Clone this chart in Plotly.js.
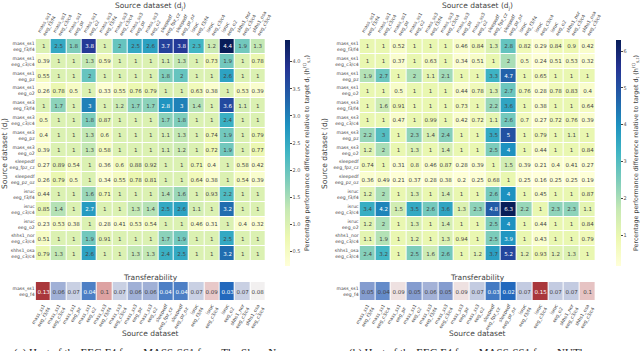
<!DOCTYPE html>
<html><head><meta charset="utf-8">
<script src="https://cdn.plot.ly/plotly-3.0.1.min.js"></script>
<style>body{margin:0;background:#fff}#c{width:640px;height:351px}</style>
</head><body><div id="c"></div>
<script>
var datasets = ["mass_ss1<br>eeg_f3/f4","mass_ss1<br>eeg_c3/c4","mass_ss1<br>eeg_pz","mass_ss1<br>eeg_o2",
"mass_ss3<br>eeg_f3/f4","mass_ss3<br>eeg_c3/c4","mass_ss3<br>eeg_pz","mass_ss3<br>eeg_o2",
"sleepedf<br>eeg_fpz_cz","sleepedf<br>eeg_pz_oz","isruc<br>eeg_f3/f4","isruc<br>eeg_c3/c4","isruc<br>eeg_o2",
"shhs1_nor<br>eeg_c3/c4","shhs1_osa<br>eeg_c3/c4"];
var targetLabel = ["mass_ss1<br>eeg_f4"];

var leftMatrix = [
[1,2.5,1.8,3.8,1,2,2.5,2.6,3.7,3.8,2.3,1.2,4.4,1.9,1.3],
[0.39,1,1,1.3,0.59,1,1,1,1.1,1.3,1,0.73,1.9,1,0.78],
[0.55,1,1,2,1,1,1,1,1.8,2,1,1,2.6,1,1],
[0.26,0.78,0.5,1,0.33,0.55,0.76,0.79,1,1,0.63,0.38,1,0.53,0.39],
[1,1.7,1,3,1,1.2,1.7,1.7,2.8,3,1.4,1,3.6,1.1,1],
[0.5,1,1,1.8,0.87,1,1,1,1.7,1.8,1,1,2.4,1,1],
[0.4,1,1,1.3,0.6,1,1,1,1.1,1.3,1,0.74,1.9,1,0.79],
[0.39,1,1,1.3,0.58,1,1,1,1.1,1.2,1,0.72,1.9,1,0.77],
[0.27,0.89,0.54,1,0.36,0.6,0.88,0.92,1,1,0.71,0.4,1,0.58,0.42],
[0.26,0.79,0.5,1,0.34,0.55,0.78,0.81,1,1,0.64,0.38,1,0.54,0.39],
[0.44,1,1,1.6,0.71,1,1,1,1.4,1.6,1,0.93,2.2,1,1],
[0.85,1.4,1,2.7,1,1,1.3,1.4,2.5,2.6,1.1,1,3.2,1,1],
[0.23,0.53,0.38,1,0.28,0.41,0.53,0.54,1,1,0.46,0.31,1,0.4,0.32],
[0.51,1,1,1.9,0.91,1,1,1,1.7,1.9,1,1,2.5,1,1],
[0.79,1.3,1,2.6,1,1,1.3,1.3,2.4,2.5,1,1,3.2,1,1]
];
var leftTransfer = [0.13,0.06,0.07,0.04,0.1,0.07,0.06,0.06,0.04,0.04,0.07,0.09,0.03,0.07,0.08];

var rightMatrix = [
[1,1,0.52,1,1,1,0.46,0.84,1.3,2.8,0.82,0.29,0.84,0.9,0.42],
[1,1,0.37,1,0.63,1,0.34,0.51,1,2,0.5,0.24,0.51,0.53,0.32],
[1.9,2.7,1,2,1.1,2.1,1,1,3.3,4.7,1,0.65,1,1,1],
[1,1,0.5,1,1,1,0.44,0.78,1.3,2.7,0.76,0.28,0.78,0.83,0.4],
[1,1.6,0.91,1,1,1,0.73,1,2.2,3.6,1,0.38,1,1,0.64],
[1,1,0.47,1,0.99,1,0.42,0.72,1.1,2.6,0.7,0.27,0.72,0.76,0.39],
[2.2,3,1,2.3,1.4,2.4,1,1,3.5,5,1,0.79,1,1.1,1],
[1.2,2,1,1.3,1,1.4,1,1,2.5,4,1,0.44,1,1,0.84],
[0.74,1,0.31,0.8,0.46,0.87,0.28,0.39,1,1.5,0.39,0.21,0.4,0.41,0.27],
[0.36,0.49,0.21,0.37,0.28,0.38,0.2,0.25,0.68,1,0.25,0.16,0.25,0.25,0.19],
[1.2,2,1,1.3,1,1.4,1,1,2.6,4,1,0.45,1,1,0.87],
[3.4,4.2,1.5,3.5,2.6,3.6,1.3,2.3,4.8,6.3,2.2,1,2.3,2.3,1.1],
[1.2,2,1,1.3,1,1.4,1,1,2.5,4,1,0.44,1,1,0.84],
[1.1,1.9,1,1.2,1,1.3,0.94,1,2.5,3.9,1,0.43,1,1,0.79],
[2.4,3.2,1,2.5,1.6,2.6,1,1.2,3.7,5.2,1.2,0.93,1.2,1.3,1]
];
var rightTransfer = [0.05,0.04,0.09,0.05,0.06,0.05,0.09,0.07,0.03,0.02,0.07,0.15,0.07,0.07,0.1];

var FONT = "DejaVu Sans, sans-serif";
var ylgnbu = [[0,'#ffffd9'],[0.125,'#edf8b1'],[0.25,'#c7e9b4'],[0.375,'#7fcdbb'],[0.5,'#41b6c4'],[0.625,'#1d91c0'],[0.75,'#225ea8'],[0.875,'#253494'],[1,'#081d58']];
var vlag = [[0,'rgb(35,105,189)'],[0.25,'rgb(140,160,208)'],[0.5,'rgb(242,240,240)'],[0.75,'rgb(216,142,142)'],[1,'rgb(169,55,59)']];
var cbTitle = 'Percentage performance difference relative to target d<sub>t</sub> (h<sup>(t)</sup><sub>s,t</sub>)';

function wrap(arr){ return [arr]; }
var cellFont = {size:5.5, family:FONT};

var traces = [
 {type:'heatmap', z:leftMatrix, x:datasets, y:datasets, xaxis:'x', yaxis:'y', colorscale:ylgnbu,
  xgap:1, ygap:1, texttemplate:'%{z}', textfont:cellFont,
  colorbar:{x:0.45, xanchor:'left', y:0.242, yanchor:'bottom', len:0.644, lenmode:'fraction', thickness:5,
    outlinewidth:0, ticks:'outside', ticklen:2, tickfont:{size:5, family:FONT, color:'#555'},
    dtick:0.5, tick0:0, tickformat:'.1f', xpad:0, ypad:0,
    title:{text:cbTitle, side:'right', font:{size:6.3, family:FONT, color:'#444'}}}},
 {type:'heatmap', z:wrap(leftTransfer), x:datasets, y:targetLabel, xaxis:'x2', yaxis:'y2', colorscale:vlag,
  showscale:false, xgap:1, ygap:1, texttemplate:'%{z}', textfont:cellFont},
 {type:'heatmap', z:rightMatrix, x:datasets, y:datasets, xaxis:'x3', yaxis:'y3', colorscale:ylgnbu,
  xgap:1, ygap:1, texttemplate:'%{z}', textfont:cellFont,
  colorbar:{x:0.972, xanchor:'left', y:0.242, yanchor:'bottom', len:0.644, lenmode:'fraction', thickness:5,
    outlinewidth:0, ticks:'outside', ticklen:2, tickfont:{size:5, family:FONT, color:'#555'},
    dtick:1, tick0:0, xpad:0, ypad:0,
    title:{text:cbTitle, side:'right', font:{size:6.3, family:FONT, color:'#444'}}}},
 {type:'heatmap', z:wrap(rightTransfer), x:datasets, y:targetLabel, xaxis:'x4', yaxis:'y4', colorscale:vlag,
  showscale:false, xgap:1, ygap:1, texttemplate:'%{z}', textfont:cellFont}
];

var tf = {size:4.6, family:FONT, color:'#444'};
function xax(dom, anchor, side){ return {domain:dom, anchor:anchor, side:side, tickangle:-60, tickfont:tf,
  showgrid:false, zeroline:false, showline:false, ticks:'', type:'category'}; }
function yax(dom, anchor){ return {domain:dom, anchor:anchor, autorange:'reversed', tickfont:tf,
  showgrid:false, zeroline:false, showline:false, ticks:'', type:'category'}; }

var LX = [36/640, 268/640], RX = [363/640, 601/640];
var MY = [1-261/351, 1-39/351];
var TY = [1-301/351, 1-282/351];

var af = {size:7.5, family:FONT, color:'#444'};
function ann(t, px, py, extra){
  var a = {text:t, x:px/640, y:1-py/351, xref:'paper', yref:'paper', showarrow:false, xanchor:'center', yanchor:'middle', font:af};
  for (var k in extra) a[k] = extra[k];
  return a;
}
var capFont = {size:11, family:'Liberation Serif, serif', color:'#222'};
var layout = {
 width:640, height:351, margin:{l:0,r:0,t:0,b:0}, paper_bgcolor:'#fff', plot_bgcolor:'#fff',
 font:{family:FONT},
 xaxis:xax(LX,'y','top'), yaxis:yax(MY,'x'),
 xaxis2:xax(LX,'y2','bottom'), yaxis2:yax(TY,'x2'),
 xaxis3:xax(RX,'y3','top'), yaxis3:yax(MY,'x3'),
 xaxis4:xax(RX,'y4','bottom'), yaxis4:yax(TY,'x4'),
 annotations:[
  ann('Source dataset (d<sub>j</sub>)', 152, 6),
  ann('Source dataset (d<sub>j</sub>)', 482, 6),
  ann('Source dataset (d<sub>i</sub>)', 5, 153, {textangle:-90}),
  ann('Source dataset (d<sub>i</sub>)', 328, 153, {textangle:-90}),
  ann('Transferability', 152, 277),
  ann('Transferability', 482, 277),
  ann('Source dataset', 152, 333),
  ann('Source dataset', 482, 333),
  ann('(a) Heat of the EEG F4 from MASS-SS1 from The Sleep N', 12, 344, {xanchor:'left', yanchor:'top', font:capFont}),
  ann('(b) Heat of the EEG F4 from MASS-SS1 from NUTh', 350, 344, {xanchor:'left', yanchor:'top', font:capFont})
 ]
};
Plotly.newPlot('c', traces, layout, {staticPlot:true, displayModeBar:false});
</script></body></html>
